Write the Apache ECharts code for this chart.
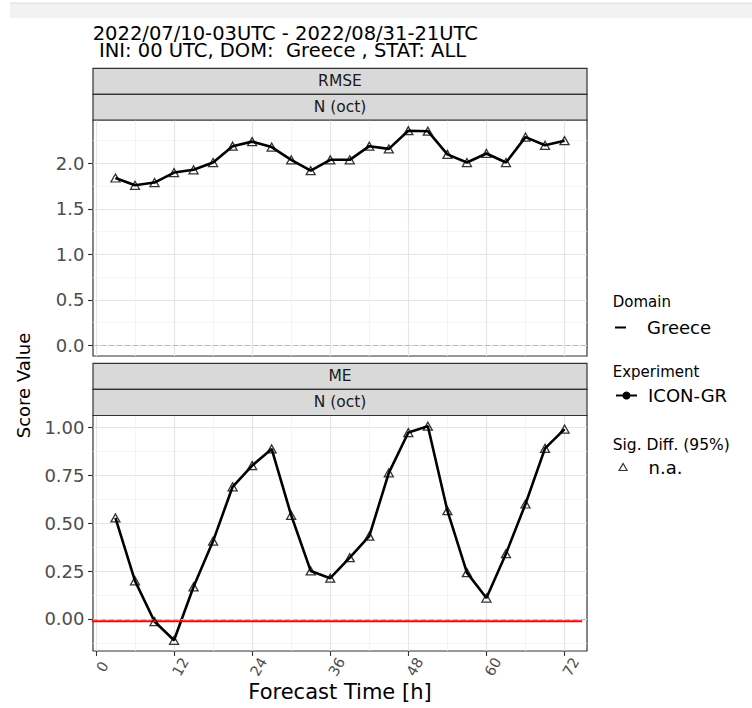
<!DOCTYPE html>
<html>
<head>
<meta charset="utf-8">
<script src="https://cdn.jsdelivr.net/npm/echarts@6.0.0/dist/echarts.min.js"></script>
<style>
html, body { margin: 0; padding: 0; background: #ffffff; }
#chart { width: 752px; height: 708px; }
</style>
</head>
<body>
<div id="chart"></div>
<script>
// ---- data ----
const hours = [3, 6, 9, 12, 15, 18, 21, 24, 27, 30, 33, 36, 39, 42, 45, 48, 51, 54, 57, 60, 63, 66, 69, 72];
const rmse = [1.84, 1.76, 1.79, 1.90, 1.93, 2.01, 2.19, 2.24, 2.18, 2.04, 1.92, 2.04, 2.04, 2.19, 2.16, 2.36, 2.355, 2.10, 2.01, 2.11, 2.01, 2.29, 2.20, 2.25];
const me = [0.528, 0.199, -0.014, -0.112, 0.168, 0.407, 0.691, 0.802, 0.889, 0.542, 0.251, 0.213, 0.320, 0.433, 0.764, 0.975, 1.008, 0.566, 0.242, 0.109, 0.341, 0.601, 0.892, 0.993];
const xTicks = [0, 12, 24, 36, 48, 60, 72];
const rmseTicks = [0, 0.5, 1.0, 1.5, 2.0];
const meTicks = [0, 0.25, 0.5, 0.75, 1.0];
const refLineX = [-1.27, 74.7];
const refLineY = -0.012;
const facetRows = ['RMSE', 'ME'];
const facetCol = 'N (oct)';
const titleLines = ['2022/07/10-03UTC - 2022/08/31-21UTC', ' INI: 00 UTC, DOM:  Greece , STAT: ALL'];
const xTitle = 'Forecast Time [h]';
const yTitle = 'Score Value';
const legendTitles = ['Domain', 'Experiment', 'Sig. Diff. (95%)'];
const domainName = 'Greece';
const experimentName = 'ICON-GR';
const sigName = 'n.a.';

// ---- helpers ----
function expand(lo, hi) { const d = (hi - lo) * 0.05; return [lo - d, hi + d]; }
const xExt = expand(Math.min(...hours), Math.max(...hours));
const rmseExt = expand(Math.min(0, ...rmse), Math.max(0, ...rmse));
const meExt = expand(Math.min(0, refLineY, ...me), Math.max(0, ...me));
const pairs = vals => hours.map((h, i) => [h, vals[i]]);

const FONT = '"DejaVu Sans", "Liberation Sans", Arial, sans-serif';
const gridL = 93, gridW = 494;
const grids = [
  { top: 120, height: 236 },
  { top: 415.5, height: 235.5 }
];

const splitMajor = { show: true, lineStyle: { color: '#e6e6e6', width: 1.2 } };
const splitMinor = { show: true, lineStyle: { color: '#f1f1f1', width: 0.8 } };

function yAxisFor(i, ext, ticks, digits) {
  const step = ticks[1] - ticks[0];
  return {
    gridIndex: i, type: 'value', min: ext[0], max: ext[1],
    minInterval: step, maxInterval: step,
    axisLine: { show: false, onZero: false },
    axisTick: { show: true, customValues: ticks, length: 5, lineStyle: { color: '#333333', width: 1.1 } },
    axisLabel: { show: true, customValues: ticks, margin: 8.5, color: '#4d4d4d', fontSize: 18, fontFamily: FONT,
      showMinLabel: true, showMaxLabel: true, formatter: v => Number(v).toFixed(digits) },
    splitLine: splitMajor,
    minorTick: { show: false, splitNumber: 2 },
    minorSplitLine: splitMinor
  };
}

function xAxisFor(i, withLabels) {
  return {
    gridIndex: i, type: 'value', min: xExt[0], max: xExt[1],
    minInterval: 12, maxInterval: 12,
    axisLine: { show: false, onZero: false },
    axisTick: { show: withLabels, customValues: xTicks, length: 5, lineStyle: { color: '#333333', width: 1.1 } },
    axisLabel: { show: withLabels, customValues: xTicks, rotate: 60, align: 'center', verticalAlign: 'top',
      margin: 12, color: '#4d4d4d', fontSize: 14.5, fontFamily: FONT,
      formatter: v => String(Math.round(v)) },
    splitLine: splitMajor,
    minorTick: { show: false, splitNumber: 2 },
    minorSplitLine: splitMinor,
    name: withLabels ? xTitle : '',
    nameLocation: 'middle', nameGap: 30, nameMoveOverlap: false,
    nameTextStyle: { fontSize: 21, color: '#000000', fontFamily: FONT }
  };
}

const zeroMark = {
  silent: true, symbol: ['none', 'none'], label: { show: false },
  lineStyle: { type: [5, 3], color: '#bbbbbb', width: 1.2 },
  data: [{ yAxis: 0 }]
};

function panelSeries(i, vals) {
  return [
    { type: 'line', name: experimentName, xAxisIndex: i, yAxisIndex: i, data: pairs(vals),
      color: '#000000', symbol: 'none', lineStyle: { color: '#000000', width: 2.6 }, z: 3,
      markLine: zeroMark },
    { type: 'scatter', name: sigName, xAxisIndex: i, yAxisIndex: i, data: pairs(vals),
      symbol: 'triangle', symbolSize: [9, 8], color: '#000000',
      itemStyle: { color: 'rgba(255,255,255,0)', borderColor: '#000000', borderWidth: 1.3 }, z: 5 }
  ];
}

// strips
const stripFill = '#d9d9d9', stripStroke = '#333333';
function strip(y, h, label) {
  return [
    { type: 'rect', shape: { x: gridL, y: y, width: gridW, height: h },
      style: { fill: stripFill, stroke: stripStroke, lineWidth: 1.2 }, z: 10 },
    { type: 'text', x: gridL + gridW / 2, y: y + h / 2, z: 11,
      style: { text: label, align: 'center', verticalAlign: 'middle', fontSize: 15.5, fontFamily: FONT, fill: '#1a1a1a' } }
  ];
}

const graphics = [
  { type: 'rect', shape: { x: 10, y: 3, width: 742, height: 15.3 }, style: { fill: '#f2f2f2' }, z: 1 },
  { type: 'line', shape: { x1: 10, y1: 3, x2: 752, y2: 3 }, style: { stroke: '#dcdcdc', lineWidth: 1 }, z: 1 },
  ...strip(68.3, 26, facetRows[0]),
  ...strip(94.3, 25.7, facetCol),
  ...strip(363.3, 26, facetRows[1]),
  ...strip(389.3, 26.2, facetCol),
  { type: 'text', x: 23, y: 385.5, rotation: Math.PI / 2,
    style: { text: yTitle, align: 'center', verticalAlign: 'middle', fontSize: 18, fontFamily: FONT, fill: '#000000' } },
  { type: 'text', x: 612.7, y: 301.7,
    style: { text: legendTitles[0], align: 'left', verticalAlign: 'middle', fontSize: 15, fontFamily: FONT, fill: '#000000' } },
  { type: 'text', x: 612.7, y: 372,
    style: { text: legendTitles[1], align: 'left', verticalAlign: 'middle', fontSize: 15, fontFamily: FONT, fill: '#000000' } },
  { type: 'text', x: 612.7, y: 444.7,
    style: { text: legendTitles[2], align: 'left', verticalAlign: 'middle', fontSize: 15.5, fontFamily: FONT, fill: '#000000' } }
];

const legendText = { fontSize: 18, color: '#000000', fontFamily: FONT };

const option = {
  animation: false,
  backgroundColor: '#ffffff',
  textStyle: { fontFamily: FONT },
  title: {
    text: titleLines.join('\n'), left: 92.7, top: 24.5, padding: 0,
    textStyle: { fontSize: 19.5, lineHeight: 17.5, fontWeight: 'normal', color: '#000000', fontFamily: FONT }
  },
  grid: grids.map(g => ({ left: gridL, top: g.top, width: gridW, height: g.height, show: true,
    borderColor: '#333333', borderWidth: 1.2, backgroundColor: '#ffffff', containLabel: false, outerBoundsMode: 'none' })),
  xAxis: [xAxisFor(0, false), xAxisFor(1, true)],
  yAxis: [yAxisFor(0, rmseExt, rmseTicks, 1), yAxisFor(1, meExt, meTicks, 2)],
  legend: [
    { data: [{ name: domainName, icon: 'rect' }], left: 615, top: 318.5, padding: 0, selectedMode: false,
      itemWidth: 11, itemHeight: 2, textStyle: Object.assign({ padding: [0, 0, 0, 16] }, legendText) },
    { data: [{ name: experimentName }], left: 615, top: 386.5, padding: 0, selectedMode: false,
      itemWidth: 21, itemHeight: 10, textStyle: Object.assign({ padding: [0, 0, 0, 6] }, legendText) },
    { data: [{ name: sigName, icon: 'triangle' }], left: 618.5, top: 458, padding: 0, selectedMode: false,
      itemWidth: 8, itemHeight: 7,
      itemStyle: { color: 'rgba(255,255,255,0)', borderColor: '#000000', borderWidth: 1.2 },
      textStyle: Object.assign({ padding: [0, 0, 0, 16.5] }, legendText) }
  ],
  series: [
    { type: 'line', name: domainName, xAxisIndex: 0, yAxisIndex: 0, data: [], color: '#000000',
      symbol: 'none', lineStyle: { color: '#000000', width: 2 } },
    ...panelSeries(0, rmse),
    ...panelSeries(1, me),
    { type: 'line', name: 'zero reference', xAxisIndex: 1, yAxisIndex: 1, clip: false, silent: true,
      data: [[refLineX[0], refLineY], [refLineX[1], refLineY]],
      symbol: 'none', color: '#ff0000', lineStyle: { color: '#ff0000', width: 2 }, z: 4 }
  ],
  graphic: graphics
};

const chart = echarts.init(document.getElementById('chart'), null, { renderer: 'svg', width: 752, height: 708 });
chart.setOption(option);
</script>
</body>
</html>
